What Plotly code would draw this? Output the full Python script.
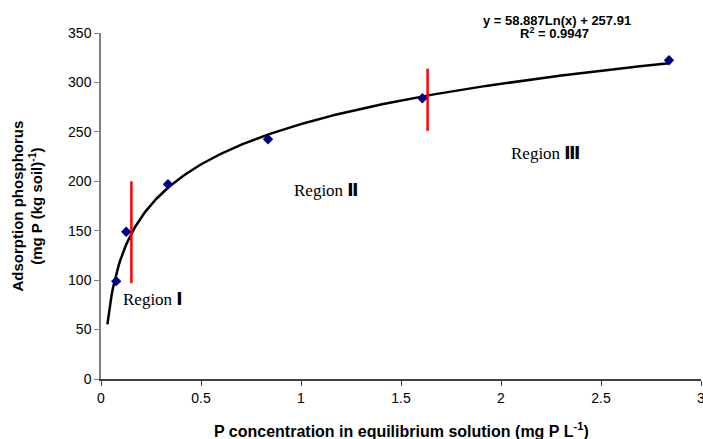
import numpy as np
import plotly.graph_objects as go

# Measured data points (P concentration, adsorbed P)
conc = [0.076, 0.126, 0.335, 0.835, 1.607, 2.84]
adsorbed = [99, 149, 197, 242.5, 284, 322.5]

# Logarithmic trendline shown on the chart: y = a*ln(x) + b
coef_a = 58.887
coef_b = 257.91
trend_start = 0.032
trend_end = 2.84

# Region boundaries (red vertical markers)
bound1_x = [0.152, 0.152]
bound1_y = [97, 200]
bound2_x = [1.633, 1.633]
bound2_y = [251, 314]

x_ticks = [0, 0.5, 1, 1.5, 2, 2.5, 3]
x_tick_labels = ["0", "0.5", "1", "1.5", "2", "2.5", "3"]
y_ticks = [0, 50, 100, 150, 200, 250, 300, 350]

tx = np.linspace(trend_start, trend_end, 400)
ty = coef_a * np.log(tx) + coef_b

fig = go.Figure()
fig.add_trace(go.Scatter(x=tx, y=ty, mode="lines",
                         line=dict(color="black", width=2.5), hoverinfo="skip"))
fig.add_trace(go.Scatter(x=bound1_x, y=bound1_y, mode="lines",
                         line=dict(color="#ff0000", width=2.5)))
fig.add_trace(go.Scatter(x=bound2_x, y=bound2_y, mode="lines",
                         line=dict(color="#ff0000", width=2.5)))
fig.add_trace(go.Scatter(x=conc, y=adsorbed, mode="markers",
                         marker=dict(symbol="diamond", size=8, color="#000080")))

L, R, T, B = 100.5, 1.5, 33, 60

region_font = "Liberation Serif"
num_span = "<span style='font-family:DejaVu Sans'><b>{}</b></span>"
annots = [
    dict(x=0.7596, y=1, xref="paper", yref="paper", xanchor="center",
         yanchor="middle", yshift=12.5,
         text="<b>y = 58.887Ln(x) + 257.91</b>", showarrow=False,
         font=dict(family="Liberation Sans", size=13, color="black")),
    dict(x=0.7563, y=1, xref="paper", yref="paper", xanchor="center",
         yanchor="middle", yshift=0,
         text="<b>R<sup>2</sup> = 0.9947</b>", showarrow=False,
         font=dict(family="Liberation Sans", size=13, color="black")),
    dict(x=0.1, y=80.5, xref="x", yref="y", xanchor="left",
         text="Region " + num_span.format("Ⅰ"),
         showarrow=False, font=dict(family=region_font, size=17, color="black")),
    dict(x=0.957, y=191, xref="x", yref="y", xanchor="left",
         text="Region " + num_span.format("Ⅱ"),
         showarrow=False, font=dict(family=region_font, size=17, color="black")),
    dict(x=2.04, y=229, xref="x", yref="y", xanchor="left",
         text="Region " + num_span.format("Ⅲ"),
         showarrow=False, font=dict(family=region_font, size=17, color="black")),
    dict(x=0.5, y=0, xref="paper", yref="paper", xanchor="center", yanchor="middle",
         yshift=-51, showarrow=False,
         text="<b>P concentration in equilibrium solution (mg P L<sup>-1</sup>)</b>",
         font=dict(family="Liberation Sans", size=16, color="black")),
    dict(x=0, y=0.5, xref="paper", yref="paper", xanchor="center", yanchor="middle",
         xshift=-74.5, showarrow=False, textangle=-90,
         text="<b>Adsorption phosphorus<br>(mg P (kg soil)<sup>-1</sup>)</b>",
         font=dict(family="Liberation Sans", size=15, color="black")),
]

fig.update_layout(
    width=703, height=439,
    margin=dict(l=L, r=R, t=T, b=B, autoexpand=False),
    paper_bgcolor="white", plot_bgcolor="white",
    showlegend=False,
    annotations=annots,
    xaxis=dict(range=[0, 3], tickvals=x_ticks, ticktext=x_tick_labels,
               showgrid=False, zeroline=False, showline=True,
               linecolor="#404040", linewidth=1.5, automargin=False,
               ticks="outside", ticklen=5, tickcolor="#404040",
               ticklabeloverflow="allow",
               tickfont=dict(family="Liberation Sans", size=14, color="black")),
    yaxis=dict(range=[0, 350], tickvals=y_ticks, automargin=False,
               showgrid=False, zeroline=False, showline=True,
               linecolor="#808080", linewidth=1.5,
               ticks="outside", ticklen=5, tickcolor="#808080",
               tickfont=dict(family="Liberation Sans", size=14, color="black")),
)

fig.write_html("out.html", config={"displayModeBar": False},
               post_script="document.body.style.margin='0';document.body.style.overflow='hidden';")
